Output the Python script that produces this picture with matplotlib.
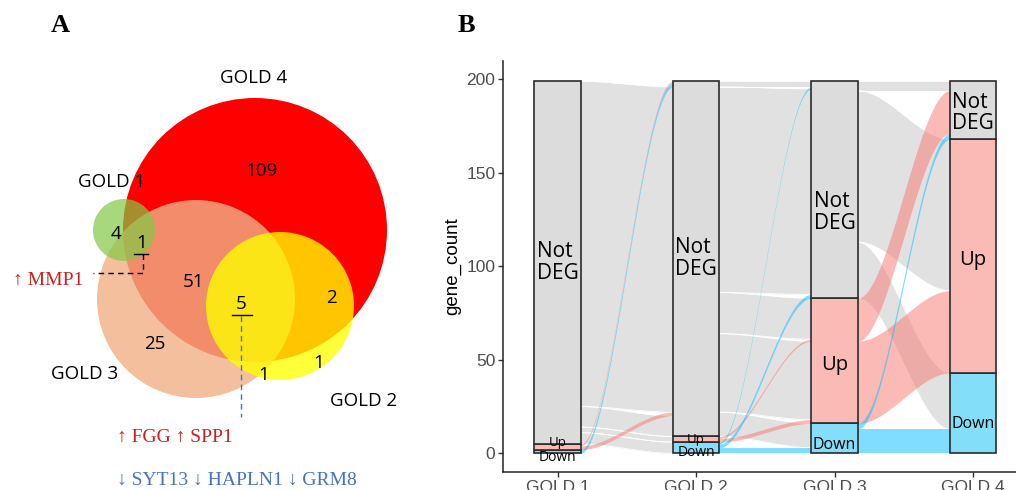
import numpy as np
import matplotlib
matplotlib.use("Agg")
import matplotlib.pyplot as plt
from matplotlib.patches import Circle, Rectangle

# ---------------- Panel A: Venn counts ----------------
venn_names = ["GOLD 1", "GOLD 2", "GOLD 3", "GOLD 4"]
# region = which GOLD sets the genes belong to
venn_regions = ["1", "4", "34", "134", "3", "234", "24", "2", "23"]
venn_counts = [4, 109, 51, 1, 25, 5, 2, 1, 1]
up_genes_134 = ["MMP1"]
up_genes_234 = ["FGG", "SPP1"]
down_genes_234 = ["SYT13", "HAPLN1", "GRM8"]

# ---------------- Panel B: alluvial flows ----------------
stages = ["GOLD 1", "GOLD 2", "GOLD 3", "GOLD 4"]
states = ["Down", "Up", "Not DEG"]          # stacked bottom -> top
# (from state, to state, genes), listed in the order they leave the left stratum
flows_12 = [("Not DEG", "Not DEG", 174), ("Not DEG", "Not DEG", 11),
            ("Not DEG", "Up", 3), ("Not DEG", "Down", 6),
            ("Up", "Not DEG", 1), ("Up", "Not DEG", 2), ("Down", "Not DEG", 2)]
flows_23 = [("Not DEG", "Not DEG", 3), ("Not DEG", "Not DEG", 110),
            ("Not DEG", "Up", 22), ("Not DEG", "Up", 42), ("Not DEG", "Down", 13),
            ("Up", "Up", 1), ("Up", "Up", 2),
            ("Down", "Not DEG", 1), ("Down", "Not DEG", 2), ("Down", "Down", 3)]
flows_34 = [("Not DEG", "Not DEG", 5), ("Not DEG", "Up", 81), ("Not DEG", "Down", 30),
            ("Up", "Not DEG", 23), ("Up", "Up", 44),
            ("Down", "Not DEG", 3), ("Down", "Down", 13)]
# order in which the flows enter the right stratum (top -> bottom)
arrive_12 = [4, 6, 0, 5, 1, 2, 3]
arrive_23 = [0, 7, 1, 8, 2, 5, 3, 6, 4, 9]
arrive_34 = [0, 3, 5, 1, 4, 2, 6]

# ---------------- styles ----------------
venn_geom = {"GOLD 4": (255, 230, 132), "GOLD 3": (196, 299, 99),
             "GOLD 1": (124, 230, 31), "GOLD 2": (280, 306, 74)}
venn_fill = {"GOLD 4": ("#FF0000", 1.0), "GOLD 3": ("#F0B085", 0.8),
             "GOLD 1": ("#84C845", 0.7), "GOLD 2": ("#FFFF00", 0.78)}
venn_name_xy = {"GOLD 4": (254, 78), "GOLD 1": (112, 182),
                "GOLD 3": (85, 374), "GOLD 2": (364, 401)}
venn_count_xy = [(116, 234), (261, 171), (194, 282), (142, 243), (155, 344),
                 (241, 304), (331, 298), (319, 363), (264, 375)]
RED = "#CC1F1F"
BLUE = "#4472C4"

strata_col = {"Not DEG": "#DCDCDC", "Up": "#FABBB6", "Down": "#82DEF9"}
flow_col = {"Not DEG": "#C4C4C4", "Up": "#F8766D", "Down": "#00BFFF"}
flow_z = {"Not DEG": 1, "Up": 2, "Down": 3}
label_txt = {"Not DEG": "Not\nDEG", "Up": "Up", "Down": "Down"}
label_size = {(0, "Not DEG"): 15, (0, "Up"): 9.5, (0, "Down"): 10,
              (1, "Not DEG"): 15, (1, "Up"): 9.5, (1, "Down"): 10,
              (2, "Not DEG"): 15, (2, "Up"): 14.5, (2, "Down"): 11.5,
              (3, "Not DEG"): 15, (3, "Up"): 14.5, (3, "Down"): 11.5}
label_nudge = {(0, "Up"): 2.2, (0, "Down"): -3.5, (1, "Down"): -2.7,
               (2, "Not DEG"): -12, (2, "Up"): -2.5, (2, "Down"): -3.5,
               (3, "Not DEG"): -1.5, (3, "Up"): -2, (3, "Down"): -6}

fig = plt.figure(figsize=(10.16, 4.9), dpi=100)

# ================= Panel A =================
axA = fig.add_axes([0, 0, 440 / 1016, 1])
axA.set_xlim(0, 440)
axA.set_ylim(490, 0)
axA.axis("off")

for z, name in enumerate(["GOLD 4", "GOLD 3", "GOLD 1", "GOLD 2"]):
    cx, cy, r = venn_geom[name]
    col, a = venn_fill[name]
    axA.add_patch(Circle((cx, cy), r, facecolor=col, alpha=a, lw=0, zorder=1 + z))

for name in venn_names:
    axA.text(*venn_name_xy[name], name, fontsize=13.5, family="Open Sans",
             ha="center", va="center", zorder=10)
for reg, n, (x, y) in zip(venn_regions, venn_counts, venn_count_xy):
    axA.text(x, y, str(n), fontsize=13.5, family="Open Sans",
             ha="center", va="center", zorder=10)

# callouts for the underlined counts
i134 = venn_regions.index("134")
x, y = venn_count_xy[i134]
axA.plot([x - 8, x + 6], [y + 11, y + 11], color="black", lw=1, zorder=10)
axA.plot([x + 0.7, x + 0.7, x - 49], [y + 11, y + 29.5, y + 29.5], color="black",
         lw=1, ls=(0, (4, 3)), zorder=10)
i234 = venn_regions.index("234")
x, y = venn_count_xy[i234]
axA.plot([x - 9.5, x + 11], [y + 11, y + 11], color="black", lw=1, zorder=10)
axA.plot([x, x], [y + 12, y + 113], color=BLUE, lw=1, ls=(0, (4, 3)), zorder=10)

serif = ["Liberation Serif", "DejaVu Serif"]
axA.text(13, 280, "  ".join("\u2191 " + g for g in up_genes_134), color=RED,
         fontsize=14, family=serif, ha="left", va="center")
axA.text(117, 437, " ".join("\u2191 " + g for g in up_genes_234), color=RED,
         fontsize=14, family=serif, ha="left", va="center")
axA.text(117, 480, " ".join("\u2193 " + g for g in down_genes_234), color=BLUE,
         fontsize=14, family=serif, ha="left", va="center")

fig.text(60 / 1016, 1 - 26 / 490, "A", fontsize=19, fontweight="bold",
         family=serif, ha="center", va="center")
fig.text(466 / 1016, 1 - 26 / 490, "B", fontsize=19, fontweight="bold",
         family=serif, ha="center", va="center")

# ================= Panel B =================
axB = fig.add_axes([503 / 1016, 18 / 490, 513 / 1016, 411.3 / 490])
w = 1 / 3


def stack(flows, order, side):
    totals = {s: sum(f[2] for f in flows if f[side] == s) for s in states}
    tops, base = {}, 0
    for s in states:
        base += totals[s]
        tops[s] = base
    pos = [None] * len(flows)
    for i in order:
        s = flows[i][side]
        hi = tops[s]
        pos[i] = (hi - flows[i][2], hi)
        tops[s] = hi - flows[i][2]
    return pos, totals


pairs = [(flows_12, arrive_12), (flows_23, arrive_23), (flows_34, arrive_34)]
t = np.linspace(0, 1, 120)
ease = t * t * (3 - 2 * t)
axis_totals = []
for k, (flows, arrive) in enumerate(pairs):
    src, tot_l = stack(flows, range(len(flows)), 0)
    dst, tot_r = stack(flows, arrive, 1)
    if k == 0:
        axis_totals.append(tot_l)
    axis_totals.append(tot_r)
    x0, x1 = k + 1 + w / 2, k + 2 - w / 2
    xs = x0 + (x1 - x0) * t
    for i, f in enumerate(flows):
        lo = src[i][0] + (dst[i][0] - src[i][0]) * ease
        hi = src[i][1] + (dst[i][1] - src[i][1]) * ease
        axB.fill_between(xs, lo, hi, color=flow_col[f[0]], alpha=0.5, lw=0,
                         zorder=flow_z[f[0]])
        if f[0] == "Not DEG":
            axB.plot(xs, lo, color="white", lw=0.6, zorder=1.5)
            axB.plot(xs, hi, color="white", lw=0.6, zorder=1.5)

for j, tot in enumerate(axis_totals):
    base = 0
    for s in states:
        h = tot[s]
        axB.add_patch(Rectangle((j + 1 - w / 2, base), w, h, facecolor=strata_col[s],
                                edgecolor="#2B2B2B", lw=1.2, zorder=5))
        yc = base + h / 2 + label_nudge.get((j, s), 0)
        axB.text(j + 1, yc, label_txt[s], fontsize=label_size[(j, s)],
                 family="Open Sans", ha="center", va="center",
                 multialignment="left", linespacing=1.05, zorder=6)
        base += h

axB.set_xlim(0.6065, 4.31)
axB.set_ylim(-10, 210)
axB.set_xticks(range(1, len(stages) + 1))
axB.set_xticklabels(stages)
axB.set_yticks([0, 50, 100, 150, 200])
for sp in ["top", "right"]:
    axB.spines[sp].set_visible(False)
for sp in ["left", "bottom"]:
    axB.spines[sp].set_linewidth(1.1)
    axB.spines[sp].set_color("#222222")
axB.tick_params(axis="both", length=3.5, width=1, color="#333333",
                labelsize=12.5, labelcolor="#4D4D4D", pad=2)
for lab in axB.get_xticklabels() + axB.get_yticklabels():
    lab.set_family("Liberation Sans")
axB.set_ylabel("gene_count", fontsize=13.5, family="Liberation Sans", va="center")
axB.yaxis.set_label_coords(-0.0975, 0.5)

fig.savefig("out.png", dpi=100)
